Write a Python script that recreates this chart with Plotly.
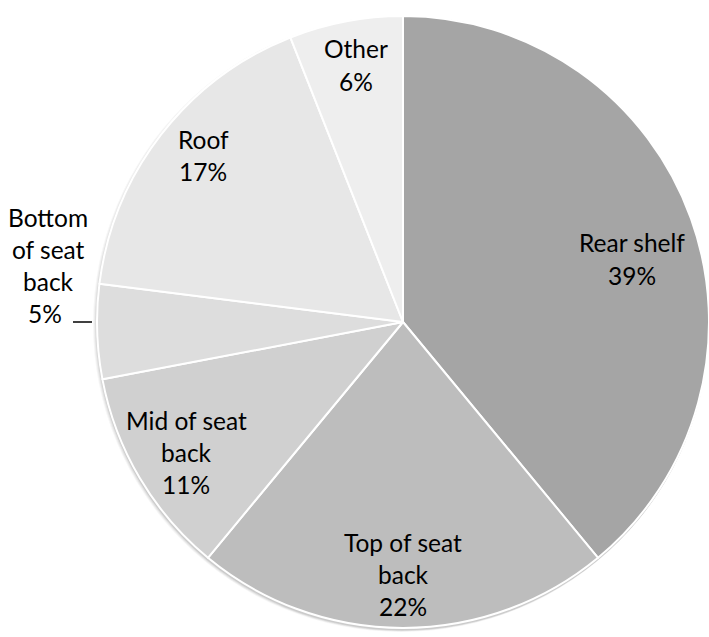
import plotly.graph_objects as go

# Share of items by location in the vehicle
locations = ["Rear shelf", "Top of seat back", "Mid of seat back",
             "Bottom of seat back", "Roof", "Other"]
shares = [39, 22, 11, 5, 17, 6]
slice_colors = ["#a5a5a5", "#bdbdbd", "#d0d0d0", "#dddddd", "#e7e7e7", "#eeeeee"]

# How each label is broken into lines
label_lines = {
    "Rear shelf": ["Rear shelf"],
    "Top of seat back": ["Top of seat", "back"],
    "Mid of seat back": ["Mid of seat", "back"],
    "Bottom of seat back": ["Bottom", "of seat", "back"],
    "Roof": ["Roof"],
    "Other": ["Other"],
}

W, H = 709, 637
LINE_H = 32

# Pixel anchor (centre x, first-line centre y) of each label block
label_anchor = {
    "Rear shelf": (632, 243),
    "Top of seat back": (403, 542),
    "Mid of seat back": (186, 420),
    "Bottom of seat back": (48, 217),
    "Roof": (203, 139),
    "Other": (356, 49),
}

def px(x):
    return min(1.0, max(0.0, x / W))

def py(y):
    return min(1.0, max(0.0, 1 - y / H))

cx, cy, r = 403, 322, 306

def domain(cx_, cy_, r_):
    return dict(x=[px(cx_ - r_), px(cx_ + r_)],
                y=[py(cy_ + r_), py(cy_ - r_)])

fig = go.Figure()

# Soft drop shadow under the pie, built from a few faint discs
for grow, alpha in [(4, 0.035), (3, 0.045), (2, 0.06), (1, 0.08)]:
    fig.add_trace(go.Pie(
        values=[1], labels=["shadow"], sort=False, textinfo="none",
        hoverinfo="skip", showlegend=False,
        marker=dict(colors=[f"rgba(0,0,0,{alpha})"], line=dict(width=0)),
        domain=domain(cx, cy + 2, r + grow),
    ))

fig.add_trace(go.Pie(
    labels=locations,
    values=shares,
    sort=False,
    direction="clockwise",
    rotation=0,
    textinfo="none",
    hoverinfo="label+percent",
    marker=dict(colors=slice_colors, line=dict(color="white", width=2)),
    domain=domain(cx, cy, r),
    showlegend=False,
))

annotations = []
for name, val in zip(locations, shares):
    lines = label_lines[name] + [f"{val}%"]
    ax, ay = label_anchor[name]
    for i, t in enumerate(lines):
        x_off = -3 if (name == "Bottom of seat back" and i == len(lines) - 1) else 0
        annotations.append(dict(
            x=px(ax + x_off), y=py(ay + i * LINE_H), xref="paper", yref="paper",
            text=t, showarrow=False, xanchor="center", yanchor="middle",
            font=dict(family="Lato", size=24.5, color="#000000"),
        ))

fig.update_layout(
    width=W, height=H,
    margin=dict(l=0, r=0, t=0, b=0),
    paper_bgcolor="white", plot_bgcolor="white",
    annotations=annotations,
    shapes=[dict(type="line", xref="paper", yref="paper",
                 x0=px(73), x1=px(92), y0=py(322), y1=py(322),
                 line=dict(color="black", width=1.5))],
)

fig.write_html("out.html")
